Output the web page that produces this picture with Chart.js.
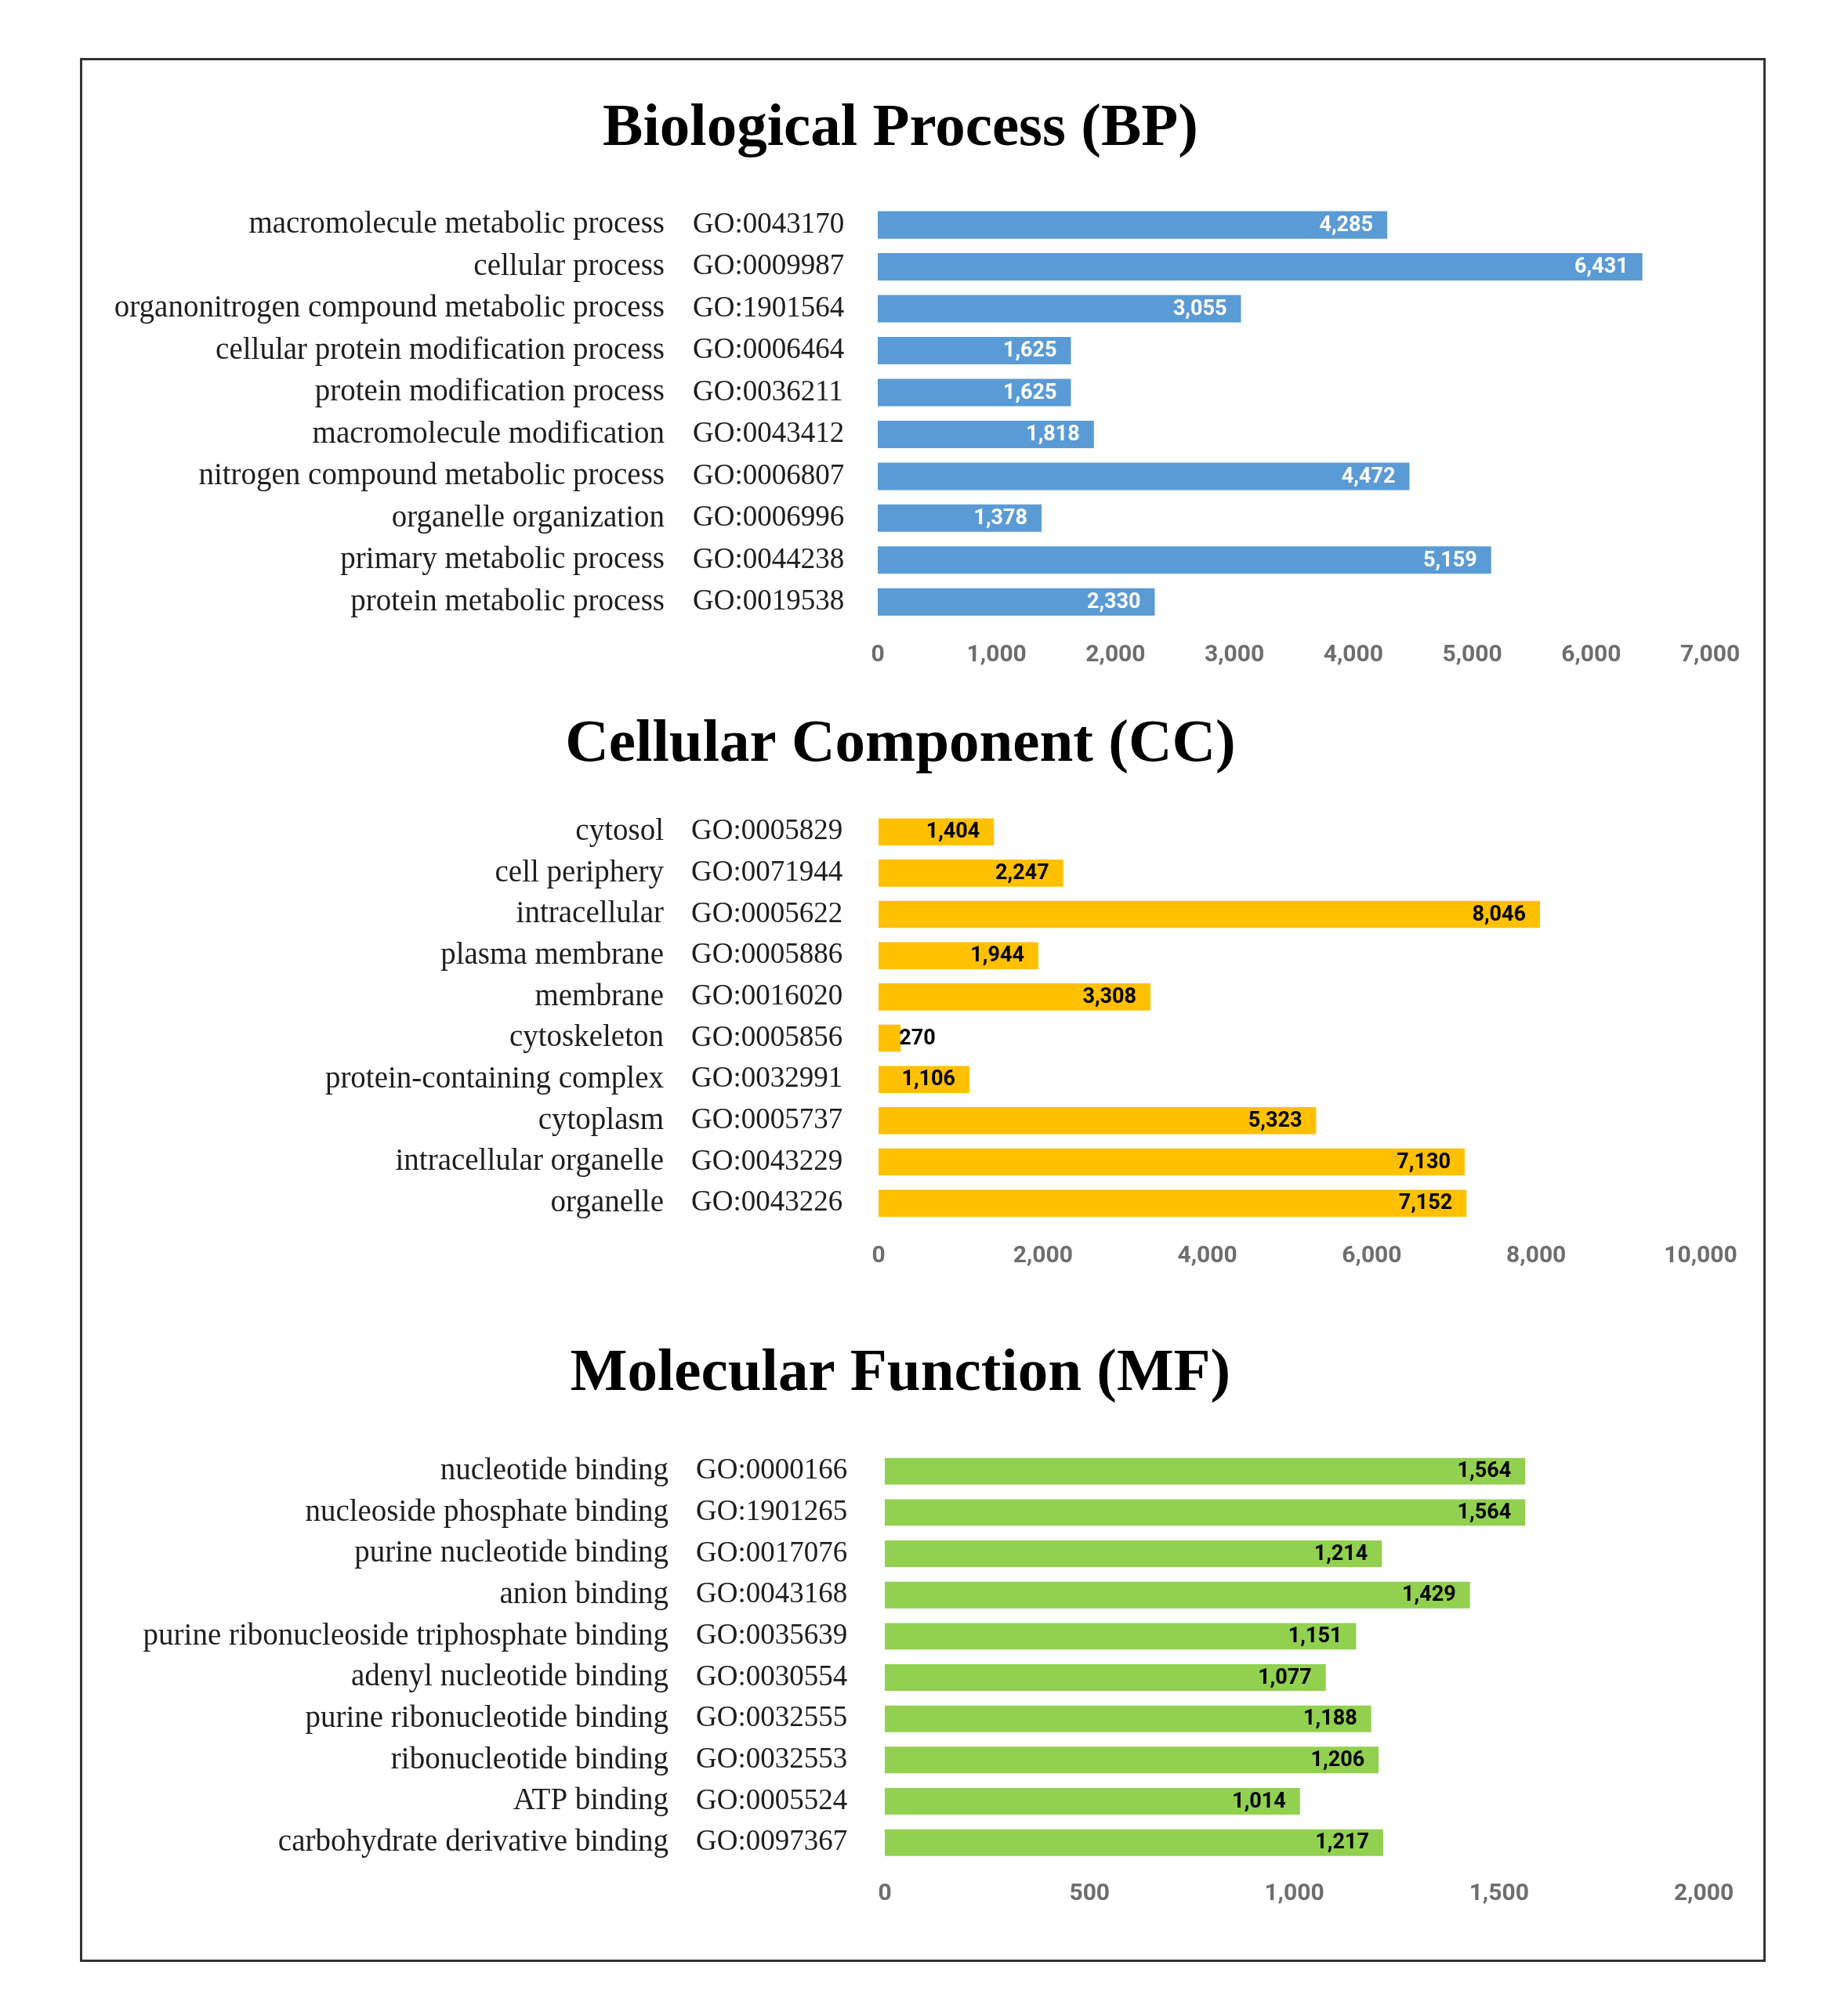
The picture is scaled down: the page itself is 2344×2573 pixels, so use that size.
<!DOCTYPE html>
<html>
<head>
<meta charset="utf-8">
<title>GO enrichment</title>
<script src="https://cdn.jsdelivr.net/npm/chart.js@4.4.1/dist/chart.umd.min.js"></script>
<style>
  html, body { margin: 0; padding: 0; background: #fff; }
  #page { position: relative; width: 2344px; height: 2573px; }
  canvas { position: absolute; left: 0; }
  #frame {
    position: absolute; left: 102px; top: 74px; width: 2151px; height: 2430px;
    border: 3px solid #333; box-sizing: border-box; pointer-events: none;
  }
</style>
</head>
<body>
<div id="page">
  <canvas id="bpChart" width="2344" height="880" style="top:0px"></canvas>
  <canvas id="ccChart" width="2344" height="820" style="top:880px"></canvas>
  <canvas id="mfChart" width="2344" height="873" style="top:1700px"></canvas>
  <div id="frame"></div>
</div>
<script>
// Biological Process
const bpNames = ['macromolecule metabolic process', 'cellular process', 'organonitrogen compound metabolic process',
  'cellular protein modification process', 'protein modification process', 'macromolecule modification',
  'nitrogen compound metabolic process', 'organelle organization', 'primary metabolic process', 'protein metabolic process'];
const bpGoIds = ['GO:0043170', 'GO:0009987', 'GO:1901564', 'GO:0006464', 'GO:0036211',
  'GO:0043412', 'GO:0006807', 'GO:0006996', 'GO:0044238', 'GO:0019538'];
const bpValues = [4285, 6431, 3055, 1625, 1625, 1818, 4472, 1378, 5159, 2330];
const bpTicks = [0, 1000, 2000, 3000, 4000, 5000, 6000, 7000];

// Cellular Component
const ccNames = ['cytosol', 'cell periphery', 'intracellular', 'plasma membrane', 'membrane',
  'cytoskeleton', 'protein-containing complex', 'cytoplasm', 'intracellular organelle', 'organelle'];
const ccGoIds = ['GO:0005829', 'GO:0071944', 'GO:0005622', 'GO:0005886', 'GO:0016020',
  'GO:0005856', 'GO:0032991', 'GO:0005737', 'GO:0043229', 'GO:0043226'];
const ccValues = [1404, 2247, 8046, 1944, 3308, 270, 1106, 5323, 7130, 7152];
const ccTicks = [0, 2000, 4000, 6000, 8000, 10000];

// Molecular Function
const mfNames = ['nucleotide binding', 'nucleoside phosphate binding', 'purine nucleotide binding', 'anion binding',
  'purine ribonucleoside triphosphate binding', 'adenyl nucleotide binding', 'purine ribonucleotide binding',
  'ribonucleotide binding', 'ATP binding', 'carbohydrate derivative binding'];
const mfGoIds = ['GO:0000166', 'GO:1901265', 'GO:0017076', 'GO:0043168', 'GO:0035639',
  'GO:0030554', 'GO:0032555', 'GO:0032553', 'GO:0005524', 'GO:0097367'];
const mfValues = [1564, 1564, 1214, 1429, 1151, 1077, 1188, 1206, 1014, 1217];
const mfTicks = [0, 500, 1000, 1500, 2000];

const serif = '"Liberation Serif", "DejaVu Serif", serif';
const narrow = '"Liberation Sans Narrow", "Roboto", "Liberation Sans", sans-serif';

// Value labels at the end of each bar (inside, or just outside when the bar is too short)
const valueLabels = {
  id: 'valueLabels',
  afterDatasetsDraw(chart, args, opts) {
    const ctx = chart.ctx;
    const meta = chart.getDatasetMeta(0);
    const data = chart.data.datasets[0].data;
    ctx.save();
    ctx.font = 'bold 27px ' + narrow;
    ctx.textBaseline = 'middle';
    meta.data.forEach((bar, i) => {
      const text = data[i].toLocaleString('en-US');
      const w = ctx.measureText(text).width;
      if (bar.x - bar.base < w + 30) {
        ctx.fillStyle = '#000';
        ctx.textAlign = 'left';
        ctx.fillText(text, bar.x - 2, bar.y + 1);
      } else {
        ctx.fillStyle = opts.color;
        ctx.textAlign = 'right';
        ctx.fillText(text, bar.x - 18, bar.y + 1);
      }
    });
    ctx.restore();
  }
};

function makeChart(id, s) {
  const ctx = document.getElementById(id);
  return new Chart(ctx, {
    type: 'bar',
    data: {
      labels: s.goIds,
      datasets: [{
        data: s.values,
        backgroundColor: s.color,
        borderWidth: 0,
        categoryPercentage: 1,
        barPercentage: s.barPct,
        yAxisID: 'y'
      }]
    },
    options: {
      indexAxis: 'y',
      responsive: false,
      animation: false,
      devicePixelRatio: 1,
      layout: { padding: { left: s.padL, right: 2344 - s.areaRight, top: 0, bottom: s.padB } },
      plugins: {
        legend: { display: false },
        tooltip: { enabled: false },
        title: {
          display: true,
          text: s.title,
          color: '#000',
          font: { family: serif, size: 77, weight: 'bold', lineHeight: 1.2 },
          padding: { top: s.titleTop, bottom: s.titleBottom }
        },
        valueLabels: { color: s.labelColor }
      },
      scales: {
        x: {
          type: 'linear',
          min: 0,
          max: s.ticks[s.ticks.length - 1],
          afterBuildTicks: (scale) => { scale.ticks = s.ticks.map(v => ({ value: v })); },
          grid: { display: false, drawTicks: false },
          border: { display: false },
          ticks: {
            padding: s.tickPad,
            maxRotation: 0,
            color: '#6e6e6e',
            font: { family: narrow, size: 30, weight: 'bold' },
            callback: (v) => Number(v).toLocaleString('en-US')
          },
          afterFit: (scale) => { scale.height = 70; }
        },
        y: {
          type: 'category',
          position: 'left',
          weight: 0,
          grid: { display: false, drawTicks: false },
          border: { display: false },
          ticks: {
            autoSkip: false,
            crossAlign: 'far',
            padding: 0,
            color: '#1e1e1e',
            font: { family: serif, size: 37 }
          },
          afterFit: (scale) => { scale.width = s.areaLeft - s.goLeft; }
        },
        names: {
          type: 'category',
          axis: 'y',
          position: 'left',
          weight: 1,
          labels: s.names,
          offset: true,
          grid: { display: false, drawTicks: false },
          border: { display: false },
          ticks: {
            autoSkip: false,
            crossAlign: 'near',
            padding: s.goLeft - s.namesRight,
            color: '#1e1e1e',
            font: { family: serif, size: 39 }
          },
          afterFit: (scale) => { scale.width = s.goLeft - s.padL; }
        }
      }
    },
    plugins: [valueLabels]
  });
}

makeChart('bpChart', {
  title: 'Biological Process (BP)', names: bpNames, goIds: bpGoIds, values: bpValues, ticks: bpTicks,
  color: '#5B9BD5', labelColor: '#ffffff', barPct: 0.655,
  padL: 116, areaLeft: 1120, areaRight: 2182, goLeft: 884, namesRight: 848,
  titleTop: 119, titleBottom: 49, padB: 15, tickPad: 23
});

makeChart('ccChart', {
  title: 'Cellular Component (CC)', names: ccNames, goIds: ccGoIds, values: ccValues, ticks: ccTicks,
  color: '#FFC000', labelColor: '#000000', barPct: 0.656,
  padL: 128, areaLeft: 1121, areaRight: 2170, goLeft: 882, namesRight: 847,
  titleTop: 25, titleBottom: 38, padB: 68, tickPad: 23
});

makeChart('mfChart', {
  title: 'Molecular Function (MF)', names: mfNames, goIds: mfGoIds, values: mfValues, ticks: mfTicks,
  color: '#92D050', labelColor: '#000000', barPct: 0.645,
  padL: 124, areaLeft: 1129, areaRight: 2174, goLeft: 888, namesRight: 853,
  titleTop: 8, titleBottom: 51, padB: 125, tickPad: 21
});
</script>
</body>
</html>
